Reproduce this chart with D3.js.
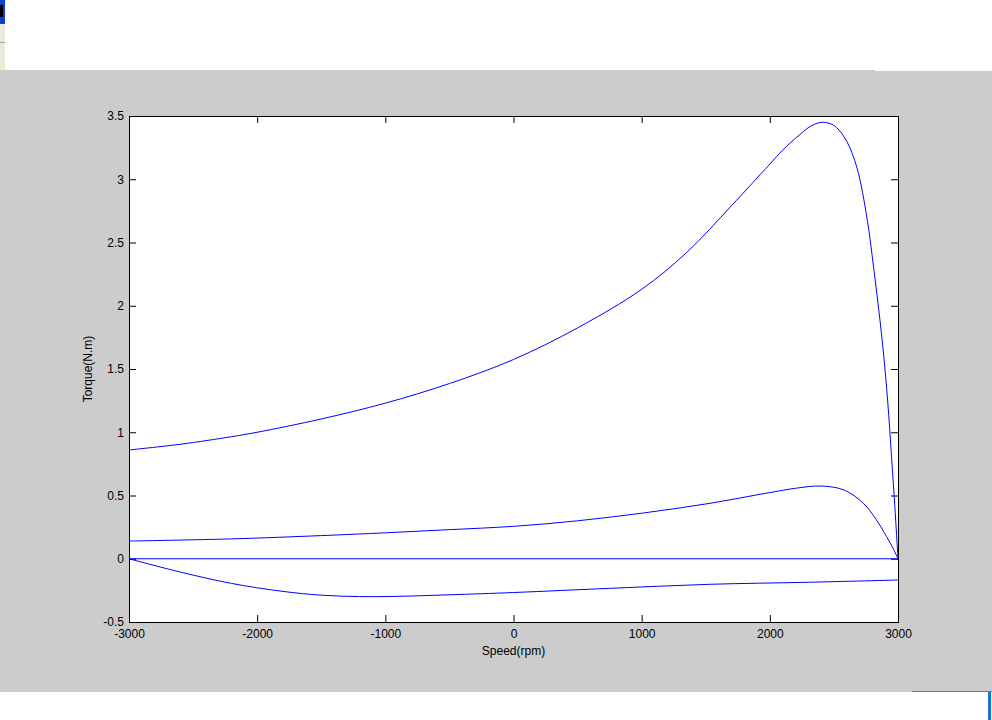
<!DOCTYPE html>
<html>
<head>
<meta charset="utf-8">
<title>Torque vs Speed</title>
<style>
  body { margin: 0; background: #fff; }
  svg { display: block; }
  .tick text { font-family: "Liberation Sans", Arial, sans-serif; font-size: 12px; fill: #000; }
  .label { font-family: "Liberation Sans", Arial, sans-serif; font-size: 12px; fill: #000; }
</style>
</head>
<body>
<div id="chart"></div>
<script src="https://d3js.org/d3.v7.min.js"></script>
<script>
// curve data (speed in rpm, torque in N.m)
var speed1 = [-3000, -2600, -2200, -2000, -1500, -1000, -500, 0, 500, 1000, 1350, 1700, 2000, 2100, 2230, 2320, 2400, 2470, 2520, 2600, 2680, 2760, 2810, 2860, 2890, 2920, 2950, 2975, 3000];
var torque1 = [0.86, 0.905, 0.965, 1.0, 1.105, 1.23, 1.385, 1.575, 1.825, 2.13, 2.42, 2.79, 3.12, 3.23, 3.35, 3.42, 3.45, 3.44, 3.41, 3.30, 3.09, 2.68, 2.30, 1.88, 1.59, 1.24, 0.80, 0.42, 0];

var speed2 = [-3000, -2200, -1500, -1000, -500, 0, 500, 1000, 1500, 2000, 2200, 2400, 2580, 2730, 2830, 2910, 2960, 3000];
var torque2 = [0.14, 0.157, 0.183, 0.205, 0.23, 0.256, 0.30, 0.36, 0.433, 0.523, 0.557, 0.575, 0.543, 0.438, 0.31, 0.176, 0.085, 0];

var speed3 = [-3000, 3000];
var torque3 = [0, 0];

var speed4 = [-3000, -2600, -2200, -1800, -1500, -1200, -900, -500, 0, 750, 1530, 2300, 3000];
var torque4 = [0, -0.105, -0.195, -0.258, -0.288, -0.299, -0.297, -0.285, -0.267, -0.234, -0.202, -0.186, -0.168];

var xTicks = [-3000, -2000, -1000, 0, 1000, 2000, 3000];
var yTicks = [-0.5, 0, 0.5, 1, 1.5, 2, 2.5, 3, 3.5];

(function(d3) {
  'use strict';
  var W = 992, H = 720;
  var pLeft = 129, pRight = 898, pTop = 116, pBottom = 622;

  var svg = d3.select('#chart').append('svg')
    .attr('width', W)
    .attr('height', H);

  // window pieces around the figure
  svg.append('rect').attr('x', 0).attr('y', 70).attr('width', 875).attr('height', 622).attr('fill', '#cccccc');
  svg.append('rect').attr('x', 875).attr('y', 71).attr('width', W - 875).attr('height', 621).attr('fill', '#cccccc');
  svg.append('rect').attr('x', 0).attr('y', 0).attr('width', 5).attr('height', 24).attr('fill', '#0a3fd8');
  svg.append('rect').attr('x', 0).attr('y', 5).attr('width', 3).attr('height', 12).attr('fill', '#000');
  svg.append('rect').attr('x', 0).attr('y', 24).attr('width', 5).attr('height', 46).attr('fill', '#ece9d8');
  svg.append('rect').attr('x', 0).attr('y', 42).attr('width', 5).attr('height', 1).attr('fill', '#aca899');
  svg.append('rect').attr('x', 912).attr('y', 691).attr('width', 80).attr('height', 1).attr('fill', '#2b86e0');
  svg.append('rect').attr('x', 988).attr('y', 692).attr('width', 3).attr('height', 28).attr('fill', '#1a73d9');

  var x = d3.scaleLinear().domain([-3000, 3000]).range([pLeft, pRight]);
  var y = d3.scaleLinear().domain([-0.5, 3.5]).range([pBottom, pTop]);

  svg.append('rect')
    .attr('x', pLeft).attr('y', pTop)
    .attr('width', pRight - pLeft).attr('height', pBottom - pTop)
    .attr('fill', '#fff');

  var tickLen = 7;

  svg.append('g')
    .attr('transform', 'translate(0,' + pBottom + ')')
    .call(d3.axisBottom(x).tickValues(xTicks).tickSize(-tickLen).tickPadding(7).tickFormat(function(d) { return String(d); }))
    .call(function(g) { g.select('.domain').remove(); });
  svg.append('g')
    .attr('transform', 'translate(0,' + pTop + ')')
    .call(d3.axisTop(x).tickValues(xTicks).tickSize(-tickLen).tickFormat(''))
    .call(function(g) { g.select('.domain').remove(); });
  svg.append('g')
    .attr('transform', 'translate(' + pLeft + ',0)')
    .call(d3.axisLeft(y).tickValues(yTicks).tickSize(-tickLen).tickPadding(5).tickFormat(function(d) { return String(d); }))
    .call(function(g) { g.select('.domain').remove(); });
  svg.append('g')
    .attr('transform', 'translate(' + pRight + ',0)')
    .call(d3.axisRight(y).tickValues(yTicks).tickSize(-tickLen).tickFormat(''))
    .call(function(g) { g.select('.domain').remove(); });

  svg.selectAll('.tick line').attr('stroke', '#000');

  var line = d3.line()
    .x(function(d) { return x(d[0]); })
    .y(function(d) { return y(d[1]); })
    .curve(d3.curveCatmullRom.alpha(0.5));

  var series = [[speed1, torque1], [speed2, torque2], [speed3, torque3], [speed4, torque4]];

  var plot = svg.append('g');
  series.forEach(function(s) {
    var pts = s[0].map(function(v, i) { return [v, s[1][i]]; });
    plot.append('path')
      .datum(pts)
      .attr('d', line)
      .attr('fill', 'none')
      .attr('stroke', '#0000ff')
      .attr('stroke-width', 1);
  });

  // box
  svg.append('rect')
    .attr('x', pLeft + 0.5).attr('y', pTop + 0.5)
    .attr('width', pRight - pLeft).attr('height', pBottom - pTop)
    .attr('fill', 'none')
    .attr('stroke', '#000')
    .attr('stroke-width', 1);

  svg.append('text')
    .attr('class', 'label')
    .attr('x', (pLeft + pRight) / 2)
    .attr('y', 655)
    .attr('text-anchor', 'middle')
    .text('Speed(rpm)');

  svg.append('text')
    .attr('class', 'label')
    .attr('transform', 'translate(92,' + ((pTop + pBottom) / 2) + ') rotate(-90)')
    .attr('text-anchor', 'middle')
    .text('Torque(N.m)');
})(window.d3);
</script>
</body>
</html>
